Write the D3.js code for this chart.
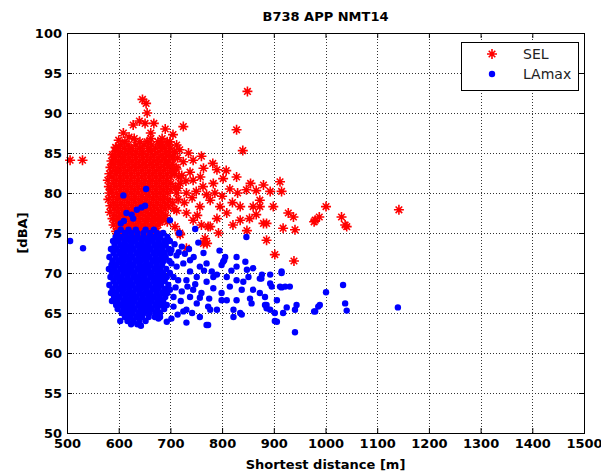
<!DOCTYPE html>
<html>
<head>
<meta charset="utf-8">
<script src="https://cdn.jsdelivr.net/npm/d3@7"></script>
<style>
  body { margin: 0; background: #fff; }
  svg { display: block; }
</style>
</head>
<body>
<svg id="screen"></svg>
<script>
// B738 APP NMT14 -- SEL and LAmax against shortest distance

// axis ticks
const xTicks = [500, 600, 700, 800, 900, 1000, 1100, 1200, 1300, 1400, 1500]
const yTicks = [50, 55, 60, 65, 70, 75, 80, 85, 90, 95, 100]

// SEL core: each row is [level dBA, distance, distance, ...]
const selRows = [
  [86.8, 630, 662, 684],
  [86.4, 612, 641, 655, 676, 694],
  [86.0, 603, 618, 633, 649, 664, 681, 697],
  [85.6, 596, 611, 624, 640, 657, 671, 688],
  [85.2, 594, 604, 619, 633, 646, 662, 678, 693, 708],
  [84.8, 588, 600, 613, 627, 641, 655, 669, 684, 698],
  [84.4, 593, 607, 620, 634, 648, 662, 676, 690, 705, 714],
  [84.0, 586, 599, 612, 626, 640, 654, 668, 682, 697],
  [83.6, 590, 604, 618, 632, 646, 660, 674, 689, 704],
  [83.2, 584, 597, 610, 624, 638, 652, 666, 680, 695, 711],
  [82.8, 591, 603, 617, 631, 645, 659, 673, 687, 702],
  [82.4, 582, 596, 610, 624, 638, 652, 666, 680, 694, 708],
  [82.0, 587, 602, 616, 630, 644, 658, 672, 686, 700, 716],
  [81.6, 579, 596, 609, 623, 637, 651, 665, 679, 693],
  [81.2, 590, 603, 617, 631, 645, 659, 673, 687, 701, 719],
  [80.8, 581, 595, 609, 623, 637, 651, 665, 679, 693, 710],
  [80.4, 586, 602, 616, 630, 644, 658, 672, 686, 700],
  [80.0, 582, 596, 610, 624, 638, 652, 666, 680, 694, 712],
  [79.6, 589, 603, 617, 631, 645, 659, 673, 687],
  [79.2, 580, 597, 611, 625, 639, 653, 667, 681, 695, 715],
  [78.8, 590, 604, 618, 632, 646, 660, 674, 688, 704],
  [78.4, 584, 597, 611, 625, 639, 653, 667, 681, 696],
  [78.0, 591, 605, 619, 633, 647, 661, 675, 690, 707],
  [77.6, 583, 599, 613, 627, 641, 655, 669, 683],
  [77.2, 593, 607, 621, 635, 649, 663, 677, 691],
  [76.8, 588, 601, 615, 629, 643, 657, 671, 686],
  [76.4, 596, 610, 624, 638, 652, 666, 680, 694],
  [76.0, 590, 605, 619, 633, 647, 661, 676],
  [75.6, 600, 614, 628, 642, 656, 671],
  [75.2, 595, 610, 624, 638, 653, 668],
  [74.8, 603, 618, 633, 648, 662],
  [74.4, 609, 626, 642, 657]
]

// SEL scattered points [distance, level]
const selScatter = [
  [506, 84.1], [530, 84.1], [646, 91.7], [653, 91.2], [655, 90.0], [651, 88.7], [628, 88.5],
  [609, 87.5], [725, 88.3], [849, 92.7], [828, 87.9], [840, 85.3], [699, 86.4], [683, 86.0],
  [718, 85.4], [725, 83.9], [744, 84.1], [764, 83.1], [790, 82.9], [802, 81.8], [828, 82.0],
  [912, 81.4], [893, 80.2], [915, 80.2], [873, 78.3], [899, 78.3], [928, 77.5], [938, 77.0],
  [941, 75.4], [980, 76.6], [886, 76.2], [886, 74.1], [902, 72.3], [939, 71.5], [777, 75.8],
  [771, 73.7], [821, 76.0], [835, 76.6], [809, 77.5], [847, 80.4], [860, 78.3], [873, 79.1],
  [744, 76.6], [718, 75.0], [709, 75.8], [673, 75.2], [680, 76.6], [796, 78.3], [777, 79.1],
  [757, 78.3], [731, 80.0], [744, 81.6], [763, 80.8], [783, 81.2], [731, 77.5], [835, 78.3],
  [1001, 78.3], [978, 76.4], [988, 77.0], [1031, 77.0], [1038, 76.0], [1041, 75.8], [1142, 77.9],
  [773, 75.8], [793, 75.0], [767, 74.3], [764, 73.7], [731, 73.1], [719, 74.8], [880, 76.2],
  [918, 75.6], [705, 84.5], [712, 83.0], [722, 82.2], [730, 81.5], [715, 80.6], [738, 82.6],
  [750, 80.2], [727, 78.8], [742, 79.4], [712, 77.8], [758, 82.0], [770, 79.8], [786, 80.0],
  [800, 79.6], [815, 80.5], [820, 78.8], [790, 76.8], [752, 77.2], [808, 82.8], [830, 80.0],
  [855, 81.2], [866, 80.3], [880, 81.0], [853, 76.8], [866, 77.3], [848, 75.3], [760, 76.0],
  [705, 87.3], [690, 88.0], [668, 88.7], [640, 89.0], [620, 87.0], [662, 87.5], [600, 86.6],
  [594, 85.7], [700, 85.6], [712, 86.0], [735, 85.0], [760, 84.6], [782, 83.7], [692, 84.0]
]

// LAmax core: each row is [level dBA, distance, distance, ...]
const lamaxRows = [
  [75.4, 604, 619, 633, 652, 668],
  [75.0, 597, 612, 624, 636, 648, 661, 674, 686],
  [74.5, 594, 604, 615, 626, 637, 648, 659, 670, 681, 694],
  [74.0, 589, 600, 611, 622, 633, 644, 655, 666, 677, 688, 699],
  [73.5, 592, 603, 614, 625, 636, 647, 658, 669, 680, 691],
  [73.0, 585, 596, 607, 618, 629, 640, 651, 662, 673, 684, 696],
  [72.5, 590, 601, 612, 623, 634, 645, 656, 667, 678, 689, 700],
  [72.0, 582, 594, 605, 616, 627, 638, 649, 660, 671, 682, 691],
  [71.5, 588, 599, 610, 621, 632, 643, 654, 665, 676, 687, 698],
  [71.0, 586, 596, 607, 618, 629, 640, 651, 662, 673, 684],
  [70.5, 581, 592, 603, 614, 625, 636, 647, 658, 669, 680, 692],
  [70.0, 587, 598, 609, 620, 631, 642, 653, 664, 675, 686, 699],
  [69.5, 584, 595, 606, 617, 628, 639, 650, 661, 672, 683, 693],
  [69.0, 590, 601, 612, 623, 634, 645, 656, 667, 678, 689],
  [68.5, 582, 594, 605, 616, 627, 638, 649, 660, 671, 682, 696],
  [68.0, 588, 599, 610, 621, 632, 643, 654, 665, 676, 688],
  [67.5, 585, 596, 607, 618, 629, 640, 651, 662, 673, 684, 694],
  [67.0, 591, 602, 613, 624, 635, 646, 657, 668, 679, 690],
  [66.5, 587, 598, 609, 620, 631, 642, 653, 664, 675, 686],
  [66.0, 595, 605, 616, 627, 638, 649, 660, 671, 682, 693],
  [65.5, 598, 609, 620, 631, 642, 653, 664, 675, 688],
  [65.0, 606, 616, 627, 638, 649, 660, 671, 680],
  [64.5, 612, 623, 634, 645, 658, 670],
  [64.0, 617, 628, 640, 652],
  [63.6, 624, 636]
]

// LAmax scattered points [distance, level]
const lamaxScatter = [
  [506, 74.0], [531, 73.1], [653, 80.5], [609, 79.7], [615, 77.5], [625, 77.3], [635, 77.9],
  [644, 78.2], [651, 78.4], [604, 76.2], [610, 76.5], [628, 76.8], [699, 76.6], [748, 75.5],
  [847, 74.5], [603, 64.0], [643, 63.4], [770, 63.5], [941, 62.6], [902, 64.0], [915, 70.0],
  [912, 68.3], [860, 70.6], [828, 72.0], [804, 71.6], [764, 72.5], [722, 73.3], [876, 69.3],
  [893, 68.7], [922, 68.3], [886, 66.0], [893, 65.4], [925, 65.7], [941, 65.4], [944, 66.0],
  [980, 65.2], [986, 65.8], [835, 65.0], [822, 64.5], [777, 65.4], [757, 64.5], [725, 65.2],
  [680, 64.5], [693, 63.9], [1034, 68.5], [1001, 67.6], [989, 66.0], [978, 65.2], [1038, 66.2],
  [1041, 65.3], [1140, 65.7], [717, 75.0], [754, 73.8], [806, 72.0], [738, 71.6], [725, 71.2],
  [712, 70.8], [706, 69.5], [715, 69.1], [731, 69.1], [751, 69.5], [770, 68.9], [744, 67.9],
  [760, 67.5], [783, 68.1], [799, 67.5], [809, 69.5], [828, 69.1], [841, 68.9], [851, 69.5],
  [873, 69.3], [893, 69.8], [915, 70.2], [896, 68.3], [915, 68.2], [931, 68.3], [860, 67.9],
  [854, 66.8], [828, 66.6], [809, 66.6], [790, 65.4], [799, 66.6], [773, 65.8], [751, 66.2],
  [731, 65.4], [706, 65.8], [702, 64.3], [677, 64.3], [731, 63.8], [773, 63.5], [822, 65.4],
  [838, 64.8], [883, 66.0], [886, 65.6], [902, 65.0], [918, 65.0], [906, 63.9], [877, 69.8],
  [783, 69.5], [799, 71.0], [780, 70.2], [738, 70.2], [722, 67.7], [802, 71.4], [770, 71.2],
  [702, 71.2], [702, 72.9], [712, 72.2], [699, 67.9], [706, 67.0], [738, 67.0], [757, 70.8],
  [828, 70.8], [848, 70.4], [838, 67.9], [873, 67.5], [883, 67.0], [906, 66.6],
  [708, 73.6], [716, 72.6], [728, 72.4], [736, 73.0], [745, 72.0], [710, 68.2], [720, 66.5],
  [733, 68.3], [748, 68.6], [757, 66.9], [742, 65.0], [714, 64.8], [765, 70.3], [775, 66.8],
  [790, 69.8], [795, 72.8], [815, 68.3], [818, 70.3], [845, 71.4], [857, 66.2]
]

const seriesNames = ["SEL", "LAmax"]

// flatten the row tables into [distance, level] points
function fromRows(rows) {
  let pts = []
  rows.forEach(function(r) {
    r.slice(1).forEach(x => pts.push([x, r[0]]))
  })
  return pts
}
const selData = fromRows(selRows).concat(selScatter)
const lamaxData = fromRows(lamaxRows).concat(lamaxScatter)

//---------------------------------------
let size = {width: 601, height: 476}
let plot = {left: 67, right: 584, top: 33, bottom: 433}

let svg = d3.select("#screen")
  .attr("width", size.width)
  .attr("height", size.height)

svg.append("rect").attr("width", size.width).attr("height", size.height).attr("fill", "#fff")

let x = d3.scaleLinear().domain([500, 1500]).range([plot.left, plot.right])
let y = d3.scaleLinear().domain([50, 100]).range([plot.bottom, plot.top])

// dotted grid (under the data)
let grid = svg.append("g").attr("stroke", "#333").attr("stroke-dasharray", "1,2").attr("stroke-width", 1)
xTicks.slice(1, -1).forEach(function(t) {
  grid.append("line")
    .attr("x1", Math.round(x(t)) + 0.5).attr("x2", Math.round(x(t)) + 0.5)
    .attr("y1", plot.top).attr("y2", plot.bottom)
})
yTicks.slice(1, -1).forEach(function(t) {
  grid.append("line")
    .attr("x1", plot.left).attr("x2", plot.right)
    .attr("y1", Math.round(y(t)) + 0.5).attr("y2", Math.round(y(t)) + 0.5)
})

// star marker like matlab '*'
const starPath = "M-5,0L5,0M0,-5L0,5M-3.3,-3.3L3.3,3.3M-3.3,3.3L3.3,-3.3"

let marks = svg.append("g")
marks.selectAll(".sel")
  .data(selData)
  .enter()
  .append("path")
  .attr("class", "sel")
  .attr("transform", d => "translate(" + x(d[0]) + "," + y(d[1]) + ")")
  .attr("d", starPath)
  .attr("stroke", "#ff0000")
  .attr("stroke-width", 1.6)
  .attr("fill", "none")

marks.selectAll(".lamax")
  .data(lamaxData)
  .enter()
  .append("circle")
  .attr("class", "lamax")
  .attr("cx", d => x(d[0]))
  .attr("cy", d => y(d[1]))
  .attr("r", 3.2)
  .attr("fill", "#0000ff")

// axes, ticks pointing inward
function styleAxis(g) {
  g.select(".domain").remove()
  g.selectAll("text")
    .attr("font-family", "DejaVu Sans")
    .attr("font-weight", "bold")
    .attr("font-size", 13)
    .attr("fill", "#000")
  g.selectAll("line").attr("stroke", "#000")
}

svg.append("g")
  .attr("transform", "translate(0," + plot.bottom + ")")
  .call(d3.axisBottom(x).tickValues(xTicks).tickSize(-5).tickPadding(6).tickFormat(d3.format("d")))
  .call(styleAxis)
svg.append("g")
  .attr("transform", "translate(0," + plot.top + ")")
  .call(d3.axisTop(x).tickValues(xTicks).tickSize(-5).tickFormat(""))
  .call(styleAxis)
svg.append("g")
  .attr("transform", "translate(" + plot.left + ",0)")
  .call(d3.axisLeft(y).tickValues(yTicks).tickSize(-5).tickPadding(5).tickFormat(d3.format("d")))
  .call(styleAxis)
svg.append("g")
  .attr("transform", "translate(" + plot.right + ",0)")
  .call(d3.axisRight(y).tickValues(yTicks).tickSize(-5).tickFormat(""))
  .call(styleAxis)

// box
svg.append("rect")
  .attr("x", plot.left + 0.5).attr("y", plot.top + 0.5)
  .attr("width", plot.right - plot.left).attr("height", plot.bottom - plot.top)
  .attr("fill", "none").attr("stroke", "#000").attr("stroke-width", 1)

// title and axis labels
svg.append("text")
  .attr("x", (plot.left + plot.right) / 2).attr("y", 21)
  .attr("text-anchor", "middle")
  .attr("font-family", "DejaVu Sans").attr("font-weight", "bold").attr("font-size", 13)
  .text("B738 APP NMT14")

svg.append("text")
  .attr("x", (plot.left + plot.right) / 2).attr("y", 469)
  .attr("text-anchor", "middle")
  .attr("font-family", "DejaVu Sans").attr("font-weight", "bold").attr("font-size", 13)
  .text("Shortest distance [m]")

svg.append("text")
  .attr("transform", "translate(27," + ((plot.top + plot.bottom) / 2) + ") rotate(-90)")
  .attr("text-anchor", "middle")
  .attr("font-family", "DejaVu Sans").attr("font-weight", "bold").attr("font-size", 13)
  .text("[dBA]")

// legend
let legend = svg.append("g")
legend.append("rect")
  .attr("x", 461.5).attr("y", 42.5).attr("width", 117).attr("height", 48)
  .attr("fill", "#fff").attr("stroke", "#000")

legend.append("path")
  .attr("transform", "translate(492,54)")
  .attr("d", starPath)
  .attr("stroke", "#ff0000").attr("stroke-width", 1.6).attr("fill", "none")
legend.append("circle")
  .attr("cx", 492).attr("cy", 74).attr("r", 3.2).attr("fill", "#0000ff")

legend.selectAll(".legtext")
  .data(seriesNames)
  .enter()
  .append("text")
  .attr("class", "legtext")
  .attr("x", 523)
  .attr("y", (d, i) => 59 + i * 20)
  .attr("font-family", "DejaVu Sans").attr("font-size", 14).attr("fill", "#222")
  .text(d => d)
</script>
</body>
</html>
